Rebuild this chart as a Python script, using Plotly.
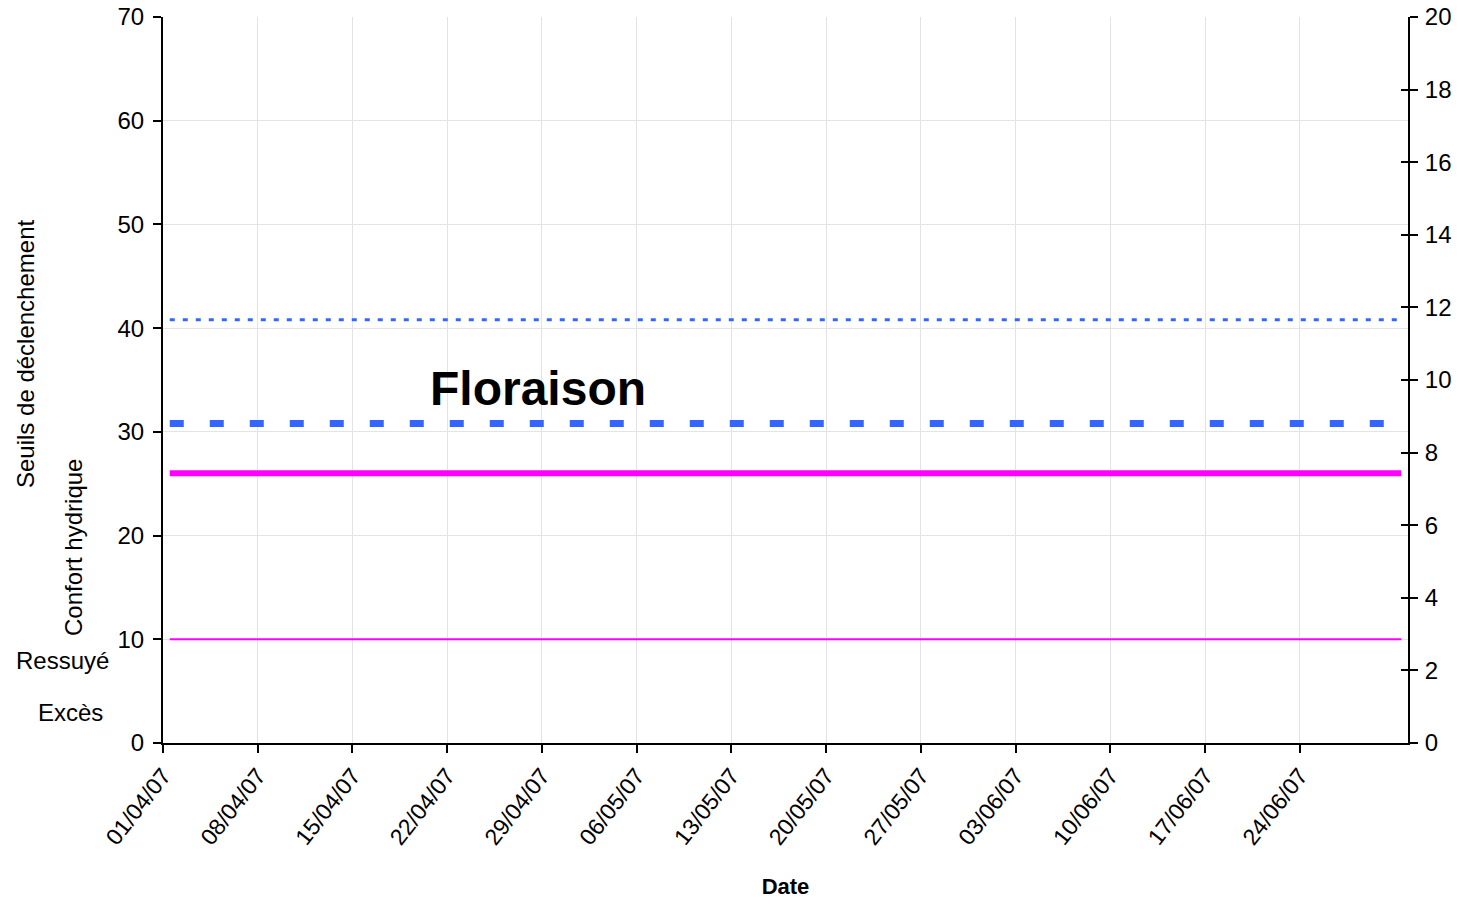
import plotly.graph_objects as go
import pandas as pd

# ---- data ----
start_day = "2007-04-01"
end_day = "2007-07-01"
tick_dates = pd.date_range("2007-04-01", "2007-06-24", freq="7D")
tick_labels = [d.strftime("%d/%m/%y") for d in tick_dates]

seuil_haut = 40.8      # dotted blue
seuil_bas = 30.8       # dashed blue
confort = 26           # thick magenta
ressuye = 10           # thin magenta

days = pd.date_range(start_day, end_day, freq="D") + pd.Timedelta(hours=12)
n = len(days)

BLUE = "#3366FF"
MAG = "#FF00FF"
FONT = "Liberation Sans, Arial, sans-serif"

fig = go.Figure()
fig.add_trace(go.Scatter(x=days, y=[seuil_haut] * n, mode="lines",
                         line=dict(color=BLUE, width=3, dash="5px,8px")))
fig.add_trace(go.Scatter(x=days, y=[seuil_bas] * n, mode="lines",
                         line=dict(color=BLUE, width=7, dash="14px,26px")))
fig.add_trace(go.Scatter(x=days, y=[confort] * n, mode="lines",
                         line=dict(color=MAG, width=6)))
fig.add_trace(go.Scatter(x=days, y=[ressuye] * n, mode="lines",
                         line=dict(color=MAG, width=2)))
fig.add_trace(go.Scatter(x=[days[0]], y=[0], yaxis="y2", mode="markers",
                         marker=dict(opacity=0), hoverinfo="skip"))
fig.add_trace(go.Scatter(x=[days[0]], y=[0], yaxis="y3", mode="markers",
                         marker=dict(opacity=0), hoverinfo="skip"))

PL, PR, PT, PB = 163, 1408, 17, 743   # plot area in page pixels
W, H = 1459, 904
L = PL
T = PT
pw = PR - PL
ph = PB - PT
R = W - L - pw
B = H - T - ph

def px(x):
    return (x - PL) / pw

def py(y):
    return (PB - y) / ph

annots = [
    dict(text="<b>Floraison</b>", x=px(538), y=py(388), font=dict(size=48, family=FONT, color="black")),
    dict(text="Seuils de déclenchement", x=px(25), y=py(354), textangle=-90,
         font=dict(size=24, family=FONT, color="black")),
    dict(text="Confort hydrique", x=px(73), y=py(548), textangle=-90,
         font=dict(size=24, family=FONT, color="black")),
    dict(text="Ressuyé", x=px(62), y=py(660), font=dict(size=24, family=FONT, color="black")),
    dict(text="Excès", x=px(70), y=py(712), font=dict(size=24, family=FONT, color="black")),
]
for a in annots:
    a.update(xref="paper", yref="paper", showarrow=False, xanchor="center", yanchor="middle")

fig.update_layout(
    width=W, height=H,
    margin=dict(l=L, r=R, t=T, b=B, pad=0, autoexpand=False),
    paper_bgcolor="white", plot_bgcolor="white",
    showlegend=False,
    font=dict(family=FONT, size=24, color="black"),
    annotations=annots,
    xaxis=dict(
        range=["2007-04-01", "2007-07-02"],
        tickvals=tick_dates, ticktext=tick_labels, tickangle=-52,
        tickfont=dict(size=23),
        showgrid=True, gridcolor="#e3e3e3", gridwidth=1,
        showline=True, linecolor="black", linewidth=2,
        ticks="outside", ticklen=8, tickwidth=2, tickcolor="black",
        zeroline=False, automargin=False,
        title=dict(text="<b>Date</b>", font=dict(size=22), standoff=30),
    ),
    yaxis=dict(
        range=[0, 70], dtick=10, tick0=0,
        tickfont=dict(size=24), ticklabelstandoff=4, ticklabeloverflow="allow",
        showgrid=True, gridcolor="#e3e3e3", gridwidth=1,
        showline=True, linecolor="black", linewidth=2,
        ticks="outside", ticklen=8, tickwidth=2, tickcolor="black",
        zeroline=False, automargin=False,
    ),
    yaxis2=dict(
        range=[0, 20], dtick=2, tick0=0, overlaying="y", side="right",
        tickfont=dict(size=24), ticklabelstandoff=2, ticklabeloverflow="allow",
        showgrid=False, showline=True, linecolor="black", linewidth=2,
        ticks="outside", ticklen=8, tickwidth=2, tickcolor="black",
        zeroline=False, automargin=False,
    ),
    yaxis3=dict(
        range=[0, 20], dtick=2, tick0=0, overlaying="y", side="right",
        showticklabels=False, showgrid=False, showline=False,
        ticks="inside", ticklen=7, tickwidth=2, tickcolor="black",
        zeroline=False, automargin=False,
    ),
)

fig.write_html("out.html", config={"displayModeBar": False},
               post_script="document.body.style.margin='0';document.body.style.overflow='hidden';")
